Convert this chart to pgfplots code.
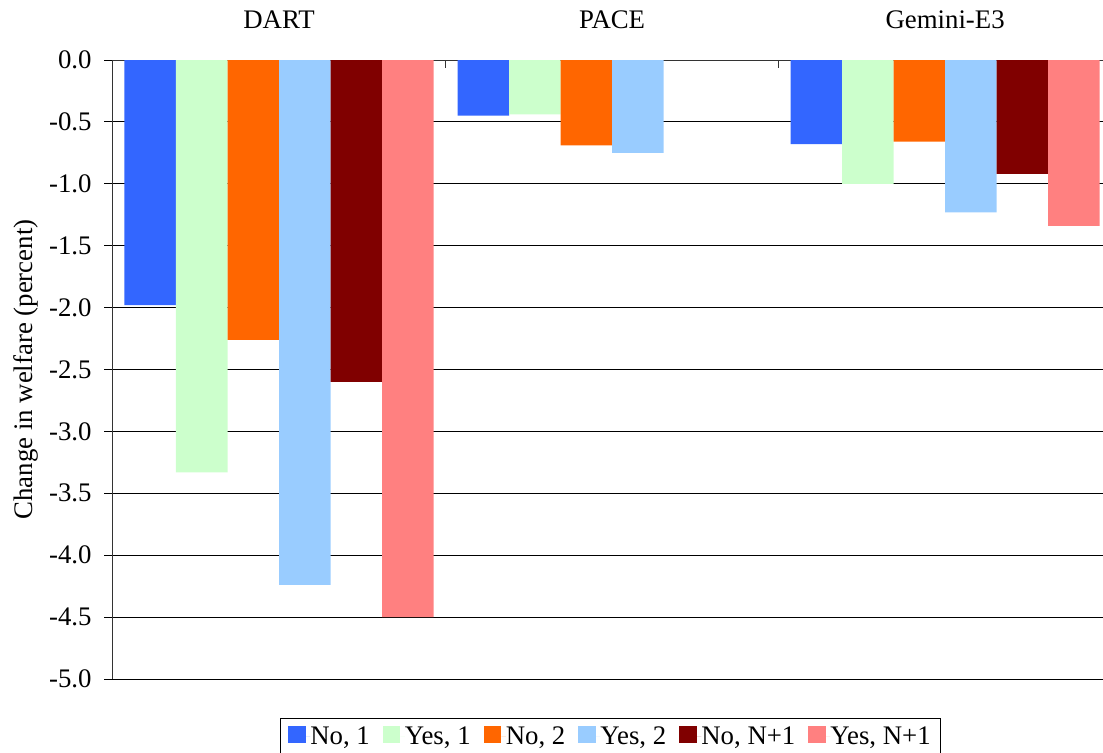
\documentclass[border=0pt]{standalone}
\usepackage{pgfplots}
\pgfplotsset{compat=1.18}
\usepackage{fontspec}
\setmainfont{Liberation Serif}
\definecolor{cA}{HTML}{3366FF}
\definecolor{cB}{HTML}{CCFFCC}
\definecolor{cC}{HTML}{FF6600}
\definecolor{cD}{HTML}{99CCFF}
\definecolor{cE}{HTML}{800000}
\definecolor{cF}{HTML}{FF8080}
\begin{document}
\begin{tikzpicture}
\begin{axis}[
  scale only axis, width=495.25pt, height=309.5pt,
  at={(0,0)}, anchor=south west,
  font=\fontsize{13.4}{15}\selectfont,
  ybar=0pt, bar width=0.1547,
  xmin=-0.5, xmax=2.474, ymin=-5, ymax=0,
  axis x line*=top, axis y line*=left,
  axis line style={line width=0.5pt, black!80},
  xtick={0,1,2}, xticklabels={DART,PACE,Gemini-E3},
  major x tick style={draw=none},
  minor xtick={0.5,1.5},
  minor x tick style={line width=0.5pt, black!80},
  xtick align=inside, ytick align=outside,
  major tick length=4pt, minor tick length=4pt,
  xticklabel style={yshift=12pt},
  ytick={-5,-4.5,-4,-3.5,-3,-2.5,-2,-1.5,-1,-0.5,0},
  yticklabels={-5.0,-4.5,-4.0,-3.5,-3.0,-2.5,-2.0,-1.5,-1.0,-0.5,0.0},
  major y tick style={line width=0.5pt, black},
  yticklabel style={anchor=east, inner sep=0pt, xshift=-6.25pt},
  ymajorgrids, major grid style={line width=0.5pt, black},
  ylabel={Change in welfare (percent)},
  ylabel style={at={(axis description cs:-0.0873,0.5)}, anchor=center},
  legend columns=-1,
  legend style={draw=black, line width=0.5pt, at={(0.5,0)}, anchor=north,
    xshift=1.4pt, yshift=-19.5pt, font=\fontsize{13.4}{15}\selectfont,
    inner xsep=3.9pt, inner ysep=2pt, column sep=0pt,
    nodes={inner xsep=0pt, inner ysep=2pt}},
  legend image code/.code={\fill[#1] (0pt,-3.2pt) rectangle (8.8pt,5.6pt);
    \path (8.8pt,0pt) -- (11.05pt,0pt);},
]
\addplot[fill=cA, draw=none] coordinates {(0,-1.98) (1,-0.45) (2,-0.68)};
\addplot[fill=cB, draw=none] coordinates {(0,-3.33) (1,-0.44) (2,-1.00)};
\addplot[fill=cC, draw=none] coordinates {(0,-2.26) (1,-0.69) (2,-0.66)};
\addplot[fill=cD, draw=none] coordinates {(0,-4.24) (1,-0.75) (2,-1.23)};
\addplot[fill=cE, draw=none] coordinates {(0,-2.60) (2,-0.92)};
\addplot[fill=cF, draw=none] coordinates {(0,-4.50) (2,-1.34)};
\legend{{No, 1\kern6.5pt},{Yes, 1\kern6.5pt},{No, 2\kern6.5pt},{Yes, 2\kern6.5pt},{No, N+1\kern6.5pt},{Yes, N+1\kern1.1pt}}
\end{axis}
\pgfresetboundingbox
\useasboundingbox (-56.25pt,-36.5pt) rectangle (495.25pt,339.5pt);
\end{tikzpicture}
\end{document}
